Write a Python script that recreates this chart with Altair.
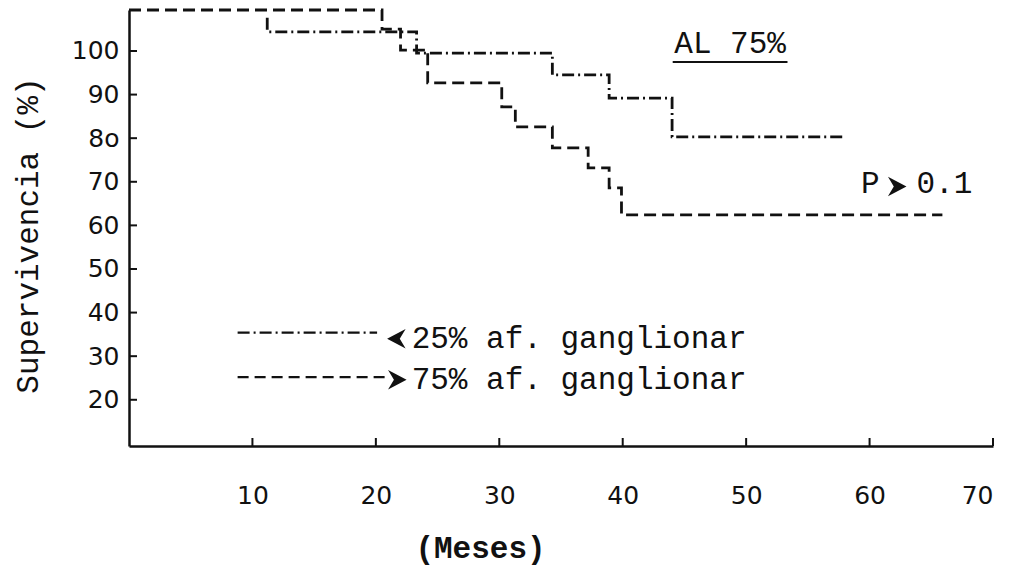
import altair as alt
import pandas as pd

# Kaplan-Meier steps: event month and survival (%) after the event
months_gt75 = [0, 20.5, 22.0, 24.2, 30.2, 31.3, 34.3, 37.2, 38.9, 39.9, 65.9]
surv_gt75 = [109.4, 105.0, 100.2, 92.7, 87.2, 82.6, 77.8, 73.2, 68.6, 62.4, 62.4]

months_lt25 = [11.2, 11.2, 23.3, 34.3, 38.9, 44.0, 58.1]
surv_lt25 = [107.6, 104.4, 99.5, 94.5, 89.2, 80.3, 80.3]

x_ticks = [10, 20, 30, 40, 50, 60, 70]
y_ticks = [20, 30, 40, 50, 60, 70, 80, 90, 100]

legend_labels = ["25% af. ganglionar", "75% af. ganglionar"]

X_DOMAIN = [0, 70]
Y_DOMAIN = [9.4, 109.4]
W, H = 864, 436
INK = "#111111"
MONO = "Liberation Mono"
SANS = "DejaVu Sans"
TXT = 31

# heavy chevrons used for "<" and ">"
CHEV_RIGHT = "M-0.9,-1 L1,0 L-0.9,1 L-0.3,0 Z"
CHEV_LEFT = "M0.9,-1 L-1,0 L0.9,1 L0.3,0 Z"
CHEV_SIZE = 380

xs = alt.Scale(domain=X_DOMAIN, nice=False, zero=False)
ys = alt.Scale(domain=Y_DOMAIN, nice=False, zero=False)

px_x = (X_DOMAIN[1] - X_DOMAIN[0]) / W   # months per pixel
px_y = (Y_DOMAIN[1] - Y_DOMAIN[0]) / H   # percent per pixel

gt75 = pd.DataFrame({"m": months_gt75, "s": surv_gt75, "i": range(len(months_gt75))})
lt25 = pd.DataFrame({"m": months_lt25, "s": surv_lt25, "i": range(len(months_lt25))})

x_axis = alt.Axis(
    values=x_ticks, ticks=False, tickSize=0, grid=False,
    domainColor=INK, domainWidth=2.5,
    labelFont=SANS, labelFontSize=25, labelColor=INK, labelPadding=49,
    labelBaseline="middle",
    title="(Meses)", titleFont=MONO, titleFontSize=TXT, titleFontWeight="bold",
    titleColor=INK, titleX=351, titleY=102, titleAlign="center",
    titleBaseline="middle", titleAnchor="start",
)
y_axis = alt.Axis(
    values=y_ticks, ticks=False, tickSize=0, grid=False,
    domainColor=INK, domainWidth=2.5,
    labelFont=SANS, labelFontSize=25, labelColor=INK, labelPadding=10,
    labelExpr="datum.value == 80 ? '8o' : datum.label",
    title="Supervivencia (%)", titleFont=MONO, titleFontSize=TXT,
    titleFontWeight="normal", titleColor=INK, titleAngle=270,
    titleX=-101, titleY=225, titleAlign="center", titleBaseline="middle",
    titleAnchor="start",
)

curve_gt75 = alt.Chart(gt75).mark_line(
    interpolate="step-after", color=INK, strokeWidth=2.8, strokeDash=[12, 6]
).encode(
    x=alt.X("m:Q", scale=xs, axis=x_axis),
    y=alt.Y("s:Q", scale=ys, axis=y_axis),
    order="i:Q",
)

curve_lt25 = alt.Chart(lt25).mark_line(
    interpolate="step-after", color=INK, strokeWidth=2.8,
    strokeDash=[12, 4, 2, 4],
).encode(
    x=alt.X("m:Q", scale=xs),
    y=alt.Y("s:Q", scale=ys),
    order="i:Q",
)

# inward tick marks on both axes
yt = pd.DataFrame({"v": y_ticks, "a": 0.0, "b": 8 * px_x})
y_tick_rules = alt.Chart(yt).mark_rule(color=INK, strokeWidth=2).encode(
    x=alt.X("a:Q", scale=xs), x2="b:Q", y=alt.Y("v:Q", scale=ys)
)
xt = pd.DataFrame({"v": x_ticks, "a": Y_DOMAIN[0], "b": Y_DOMAIN[0] + 8 * px_y})
x_tick_rules = alt.Chart(xt).mark_rule(color=INK, strokeWidth=2).encode(
    x=alt.X("v:Q", scale=xs), y=alt.Y("a:Q", scale=ys), y2="b:Q"
)

# legend: sample lines, heavy chevrons and labels
leg_y = [35.4, 25.2]
leg_text_y = [34.0, 24.6]
leg_dd = alt.Chart(pd.DataFrame({"a": [8.8], "b": [20.1], "y": [leg_y[0]]})).mark_rule(
    color=INK, strokeWidth=2.4, strokeDash=[12, 4, 2, 4]
).encode(x=alt.X("a:Q", scale=xs), x2="b:Q", y=alt.Y("y:Q", scale=ys))
leg_da = alt.Chart(pd.DataFrame({"a": [8.8], "b": [20.9], "y": [leg_y[1]]})).mark_rule(
    color=INK, strokeWidth=2.4, strokeDash=[11, 6]
).encode(x=alt.X("a:Q", scale=xs), x2="b:Q", y=alt.Y("y:Q", scale=ys))

chev_l = alt.Chart(pd.DataFrame({"x": [21.7], "y": [leg_text_y[0]]})).mark_point(
    shape=CHEV_LEFT, size=CHEV_SIZE, filled=True, color=INK, opacity=1
).encode(x=alt.X("x:Q", scale=xs), y=alt.Y("y:Q", scale=ys))
chev_r = alt.Chart(pd.DataFrame({"x": [21.7, 62.2], "y": [leg_text_y[1], 68.9]})).mark_point(
    shape=CHEV_RIGHT, size=CHEV_SIZE, filled=True, color=INK, opacity=1
).encode(x=alt.X("x:Q", scale=xs), y=alt.Y("y:Q", scale=ys))

leg_txt = alt.Chart(pd.DataFrame({"x": [22.9, 22.9], "y": leg_text_y, "t": legend_labels})).mark_text(
    font=MONO, fontSize=TXT, color=INK, align="left", baseline="middle"
).encode(x=alt.X("x:Q", scale=xs), y=alt.Y("y:Q", scale=ys), text="t:N")

# "AL 75%" heading with underline
al_txt = alt.Chart(pd.DataFrame({"x": [48.7], "y": [99.6], "t": ["AL 75%"]})).mark_text(
    font=MONO, fontSize=TXT, color=INK, align="center", baseline="alphabetic"
).encode(x=alt.X("x:Q", scale=xs), y=alt.Y("y:Q", scale=ys), text="t:N")
al_rule = alt.Chart(pd.DataFrame({"a": [44.05], "b": [53.35], "y": [97.5]})).mark_rule(
    color=INK, strokeWidth=2
).encode(x=alt.X("a:Q", scale=xs), x2="b:Q", y=alt.Y("y:Q", scale=ys))

# p-value note
p_txt = alt.Chart(pd.DataFrame({"x": [59.3, 63.8], "y": [67.4, 67.4], "t": ["P", "0.1"]})).mark_text(
    font=MONO, fontSize=TXT, color=INK, align="left", baseline="alphabetic"
).encode(x=alt.X("x:Q", scale=xs), y=alt.Y("y:Q", scale=ys), text="t:N")

chart = alt.layer(
    curve_gt75, curve_lt25, y_tick_rules, x_tick_rules,
    leg_dd, leg_da, chev_l, chev_r, leg_txt, al_txt, al_rule, p_txt,
).properties(
    width=W, height=H,
    autosize=alt.AutoSizeParams(type="none"),
    padding={"left": 129, "top": 10, "right": 24, "bottom": 119},
    background="white",
).configure_view(stroke=None)

chart.save("out.html", embed_options={"renderer": "svg", "actions": False})
